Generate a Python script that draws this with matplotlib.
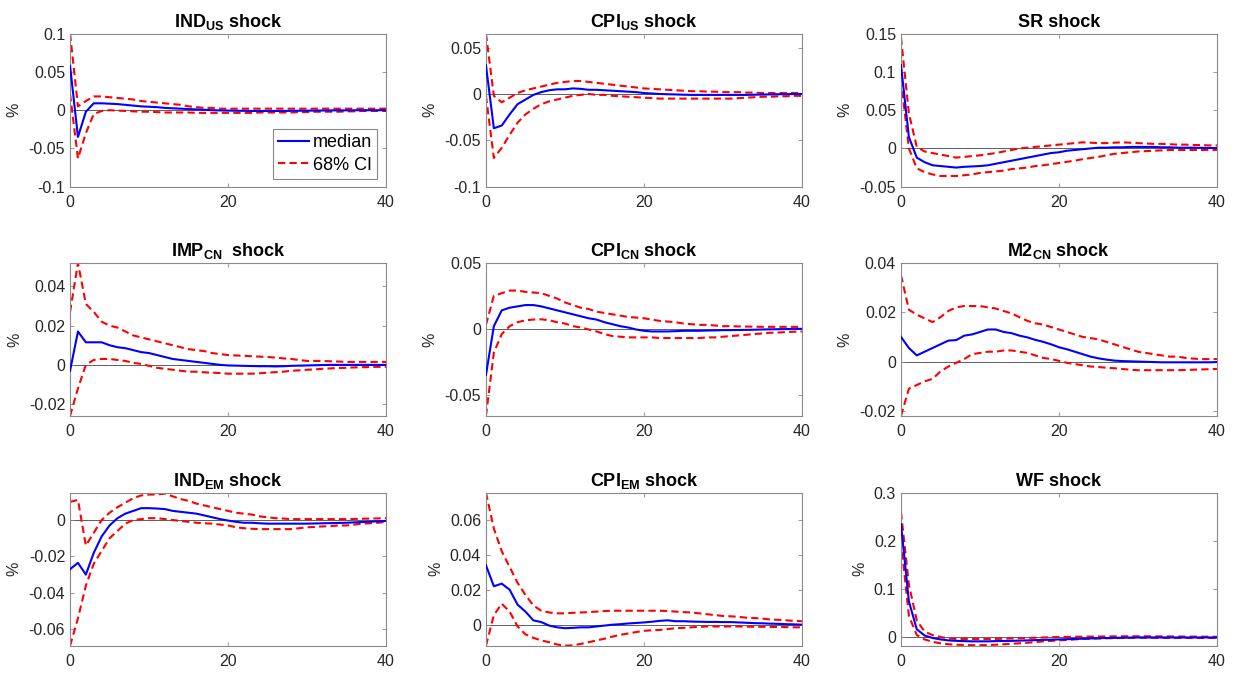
import matplotlib
matplotlib.use("Agg")
import matplotlib.pyplot as plt
import numpy as np

plt.rcParams['font.family'] = ['Liberation Sans', 'DejaVu Sans']
plt.rcParams['mathtext.fontset'] = 'custom'
plt.rcParams['mathtext.rm'] = 'Liberation Sans'
plt.rcParams['mathtext.bf'] = 'Liberation Sans:bold'
plt.rcParams['axes.unicode_minus'] = False

horizons = list(range(41))

titles = [r'IND$_{\mathbf{US}}$ shock', r'CPI$_{\mathbf{US}}$ shock', 'SR shock',
          r'IMP$_{\mathbf{CN}}$  shock', r'CPI$_{\mathbf{CN}}$ shock', r'M2$_{\mathbf{CN}}$ shock',
          r'IND$_{\mathbf{EM}}$ shock', r'CPI$_{\mathbf{EM}}$ shock', 'WF shock']

# ---- IND_US shock
ind_us_med = [0.058, -0.035, -0.002, 0.009, 0.009, 0.0085, 0.008, 0.007, 0.006, 0.005,
              0.0045, 0.004, 0.003, 0.0025, 0.002, 0.0015, 0.001, 0.0005, 0.0, -0.0003,
              -0.0005, -0.0007, -0.0008, -0.001, -0.001, -0.001, -0.001, -0.001, -0.0008, -0.0007,
              -0.0006, -0.0005, -0.0004, -0.0003, -0.0002, -0.0002, -0.0001, 0.0, 0.0, 0.0, 0.0]
ind_us_up = [0.100, 0.005, 0.012, 0.018, 0.018, 0.017, 0.016, 0.015, 0.014, 0.012,
             0.011, 0.010, 0.009, 0.008, 0.007, 0.005, 0.004, 0.003, 0.003, 0.002,
             0.002, 0.002, 0.002, 0.002, 0.002, 0.002, 0.002, 0.002, 0.002, 0.002,
             0.002, 0.002, 0.002, 0.002, 0.002, 0.002, 0.002, 0.002, 0.002, 0.002, 0.002]
ind_us_lo = [0.021, -0.063, -0.030, -0.005, -0.001, 0.000, -0.0005, -0.001, -0.0015, -0.002,
             -0.002, -0.0025, -0.003, -0.003, -0.003, -0.003, -0.0035, -0.0035, -0.0035, -0.0035,
             -0.0035, -0.0035, -0.0035, -0.0035, -0.003, -0.003, -0.003, -0.003, -0.003, -0.0025,
             -0.0025, -0.002, -0.002, -0.002, -0.002, -0.0015, -0.0015, -0.001, -0.001, -0.001, -0.001]

# ---- CPI_US shock
cpi_us_med = [0.031, -0.037, -0.034, -0.022, -0.011, -0.006, -0.001, 0.002, 0.004, 0.005,
              0.005, 0.006, 0.0055, 0.0045, 0.0045, 0.004, 0.0035, 0.003, 0.0025, 0.002,
              0.001, 0.0005, 0.0, -0.0003, -0.0005, -0.0008, -0.001, -0.001, -0.001, -0.001,
              -0.001, -0.001, -0.001, -0.001, -0.0008, -0.0006, -0.0005, -0.0003, -0.0002, -0.0001, 0.0]
cpi_us_up = [0.065, -0.002, -0.009, -0.004, 0.001, 0.004, 0.006, 0.008, 0.010, 0.012,
             0.013, 0.014, 0.014, 0.013, 0.012, 0.011, 0.010, 0.009, 0.008, 0.007,
             0.006, 0.0055, 0.005, 0.0045, 0.004, 0.0035, 0.003, 0.003, 0.0025, 0.0025,
             0.002, 0.002, 0.002, 0.0015, 0.0015, 0.001, 0.001, 0.001, 0.001, 0.001, 0.001]
cpi_us_lo = [-0.002, -0.069, -0.058, -0.044, -0.031, -0.022, -0.016, -0.011, -0.008, -0.006,
             -0.004, -0.002, -0.001, 0.0, -0.001, -0.001, -0.002, -0.0025, -0.003, -0.0035,
             -0.004, -0.0045, -0.005, -0.005, -0.005, -0.005, -0.005, -0.005, -0.005, -0.005,
             -0.005, -0.005, -0.0045, -0.004, -0.0035, -0.003, -0.003, -0.0025, -0.0025, -0.002, -0.002]

# ---- SR shock
sr_med = [0.109, 0.015, -0.012, -0.018, -0.022, -0.023, -0.024, -0.025, -0.024, -0.0235,
          -0.023, -0.022, -0.020, -0.018, -0.016, -0.014, -0.012, -0.010, -0.008, -0.006,
          -0.005, -0.003, -0.002, -0.001, 0.0, 0.001, 0.001, 0.0015, 0.0015, 0.002,
          0.002, 0.002, 0.002, 0.0015, 0.0015, 0.001, 0.001, 0.001, 0.0008, 0.0006, 0.0005]
sr_up = [0.145, 0.046, 0.002, -0.004, -0.006, -0.008, -0.010, -0.012, -0.011, -0.010,
         -0.009, -0.0075, -0.006, -0.004, -0.002, 0.0, 0.001, 0.002, 0.003, 0.004,
         0.005, 0.006, 0.007, 0.008, 0.0075, 0.007, 0.007, 0.0075, 0.008, 0.0075,
         0.007, 0.0065, 0.006, 0.006, 0.0055, 0.005, 0.005, 0.0045, 0.0045, 0.004, 0.004]
sr_lo = [0.09, 0.0, -0.026, -0.031, -0.034, -0.036, -0.036, -0.036, -0.035, -0.034,
         -0.032, -0.031, -0.030, -0.029, -0.027, -0.026, -0.025, -0.023, -0.022, -0.0205,
         -0.019, -0.0175, -0.016, -0.014, -0.0125, -0.011, -0.009, -0.007, -0.006, -0.005,
         -0.004, -0.0035, -0.003, -0.0025, -0.002, -0.002, -0.002, -0.002, -0.002, -0.002, -0.002]

# ---- IMP_CN shock
imp_cn_med = [-0.003, 0.017, 0.0115, 0.0115, 0.0115, 0.010, 0.009, 0.0085, 0.0075, 0.0065,
              0.006, 0.005, 0.004, 0.003, 0.0025, 0.002, 0.0015, 0.001, 0.0005, 0.0,
              -0.0003, -0.0004, -0.0005, -0.0006, -0.0007, -0.0007, -0.0008, -0.0007, -0.0005, -0.0004,
              -0.0003, -0.0002, -0.0001, 0.0, 0.0, 0.0, 0.0, 0.0, 0.0, 0.0, 0.0]
imp_cn_up = [0.027, 0.052, 0.031, 0.027, 0.022, 0.020, 0.019, 0.017, 0.015, 0.014,
             0.013, 0.012, 0.011, 0.010, 0.009, 0.008, 0.0075, 0.007, 0.006, 0.0055,
             0.005, 0.0048, 0.0046, 0.0044, 0.0042, 0.004, 0.0037, 0.0033, 0.003, 0.0025,
             0.002, 0.002, 0.002, 0.0018, 0.0017, 0.0015, 0.0015, 0.0015, 0.0015, 0.0015, 0.0015]
imp_cn_lo = [-0.026, -0.012, 0.0, 0.0025, 0.003, 0.003, 0.0025, 0.002, 0.001, 0.0005,
             -0.0005, -0.0015, -0.002, -0.0025, -0.003, -0.0035, -0.0035, -0.0038, -0.004, -0.0042,
             -0.0045, -0.0045, -0.0045, -0.0045, -0.0043, -0.004, -0.0037, -0.0035, -0.003, -0.0028,
             -0.0025, -0.0023, -0.002, -0.0018, -0.0016, -0.0015, -0.0013, -0.0012, -0.0011, -0.001, -0.001]

# ---- CPI_CN shock
cpi_cn_med = [-0.035, 0.002, 0.014, 0.016, 0.017, 0.018, 0.018, 0.017, 0.0155, 0.014,
              0.0125, 0.011, 0.0095, 0.008, 0.007, 0.005, 0.0035, 0.002, 0.001, -0.0005,
              -0.0015, -0.002, -0.002, -0.002, -0.0018, -0.0015, -0.0015, -0.0015, -0.0013, -0.0012,
              -0.001, -0.001, -0.0009, -0.0008, -0.0007, -0.0005, -0.0004, -0.0003, -0.0002, -0.0001, 0.0]
cpi_cn_up = [0.003, 0.025, 0.027, 0.029, 0.029, 0.028, 0.0275, 0.027, 0.025, 0.023,
             0.020, 0.018, 0.016, 0.015, 0.013, 0.012, 0.011, 0.010, 0.009, 0.0085,
             0.008, 0.007, 0.006, 0.0055, 0.005, 0.004, 0.0035, 0.003, 0.003, 0.0025,
             0.002, 0.002, 0.0018, 0.0017, 0.0016, 0.0015, 0.0015, 0.0015, 0.0015, 0.0015, 0.0015]
cpi_cn_lo = [-0.066, -0.018, -0.004, 0.002, 0.005, 0.0065, 0.007, 0.0072, 0.0065, 0.005,
             0.004, 0.002, 0.001, -0.0005, -0.002, -0.004, -0.0055, -0.006, -0.0065, -0.0065,
             -0.0065, -0.0065, -0.007, -0.007, -0.007, -0.007, -0.007, -0.007, -0.0065, -0.0065,
             -0.006, -0.0055, -0.005, -0.0045, -0.004, -0.0035, -0.003, -0.0028, -0.0025, -0.0022, -0.002]

# ---- M2_CN shock
m2_cn_med = [0.010, 0.0055, 0.0025, 0.004, 0.0055, 0.007, 0.0085, 0.0087, 0.0105, 0.011,
             0.012, 0.013, 0.013, 0.012, 0.0115, 0.0105, 0.0098, 0.0088, 0.008, 0.007,
             0.0058, 0.005, 0.004, 0.003, 0.002, 0.0013, 0.0008, 0.0004, 0.0002, 0.0001,
             0.0, -0.0001, -0.0002, -0.0003, -0.0003, -0.0003, -0.0003, -0.0003, -0.0003, -0.0003, -0.0002]
m2_cn_up = [0.035, 0.021, 0.019, 0.0175, 0.016, 0.018, 0.0205, 0.022, 0.0225, 0.0225,
            0.0225, 0.022, 0.0215, 0.0205, 0.0195, 0.018, 0.0165, 0.0155, 0.015, 0.014,
            0.013, 0.012, 0.011, 0.010, 0.0095, 0.009, 0.008, 0.007, 0.006, 0.005,
            0.004, 0.0035, 0.003, 0.0025, 0.002, 0.002, 0.0015, 0.0012, 0.001, 0.001, 0.001]
m2_cn_lo = [-0.022, -0.011, -0.0095, -0.008, -0.007, -0.004, -0.002, -0.0005, 0.001, 0.003,
            0.0035, 0.004, 0.004, 0.0045, 0.0045, 0.004, 0.0035, 0.0025, 0.0015, 0.001,
            0.0003, -0.0005, -0.001, -0.0015, -0.002, -0.0022, -0.0025, -0.0027, -0.003, -0.0033,
            -0.0035, -0.0035, -0.0035, -0.0035, -0.0035, -0.0035, -0.0034, -0.0033, -0.0032, -0.0031, -0.003]

# ---- IND_EM shock
ind_em_med = [-0.027, -0.0235, -0.030, -0.018, -0.009, -0.003, 0.001, 0.0035, 0.005, 0.0065,
              0.0065, 0.0063, 0.006, 0.005, 0.0045, 0.004, 0.0035, 0.0025, 0.0015, 0.0005,
              -0.0003, -0.001, -0.0015, -0.0015, -0.0018, -0.002, -0.002, -0.002, -0.002, -0.002,
              -0.002, -0.0019, -0.0018, -0.0017, -0.0016, -0.0015, -0.0013, -0.0011, -0.0009, -0.0007, -0.0005]
ind_em_up = [0.010, 0.011, -0.014, -0.007, 0.0, 0.004, 0.007, 0.0095, 0.012, 0.0135,
             0.014, 0.014, 0.0145, 0.013, 0.0115, 0.0105, 0.009, 0.008, 0.007, 0.006,
             0.005, 0.004, 0.0035, 0.003, 0.002, 0.0015, 0.001, 0.0008, 0.0005, 0.0005,
             0.0005, 0.0005, 0.0005, 0.0005, 0.0005, 0.0005, 0.0006, 0.0007, 0.0008, 0.0009, 0.001]
ind_em_lo = [-0.069, -0.054, -0.036, -0.024, -0.017, -0.010, -0.006, -0.002, 0.0, 0.0005,
             0.001, 0.001, 0.0005, 0.0, -0.0005, -0.001, -0.0015, -0.0018, -0.002, -0.0025,
             -0.003, -0.004, -0.0045, -0.0048, -0.005, -0.005, -0.005, -0.005, -0.005, -0.0045,
             -0.004, -0.0038, -0.0035, -0.0033, -0.003, -0.003, -0.0025, -0.002, -0.0018, -0.0015, -0.001]

# ---- CPI_EM shock
cpi_em_med = [0.034, 0.022, 0.0235, 0.020, 0.0115, 0.0075, 0.0025, 0.0015, -0.0005, -0.0015,
              -0.002, -0.0018, -0.0015, -0.0015, -0.001, -0.0005, 0.0, 0.0003, 0.0007, 0.001,
              0.0013, 0.0017, 0.0022, 0.0025, 0.002, 0.002, 0.0018, 0.0017, 0.0016, 0.0016,
              0.0015, 0.0015, 0.0013, 0.0011, 0.0009, 0.0008, 0.0006, 0.0005, 0.0003, 0.0002, 0.0]
cpi_em_up = [0.0755, 0.055, 0.042, 0.033, 0.024, 0.017, 0.011, 0.008, 0.007, 0.0065,
             0.0065, 0.0068, 0.007, 0.0072, 0.0075, 0.0078, 0.008, 0.008, 0.008, 0.008,
             0.008, 0.008, 0.008, 0.0078, 0.0075, 0.0072, 0.007, 0.0065, 0.006, 0.0055,
             0.005, 0.0048, 0.0045, 0.004, 0.0038, 0.0035, 0.003, 0.0028, 0.0025, 0.0022, 0.002]
cpi_em_lo = [-0.012, 0.0055, 0.012, 0.0075, -0.001, -0.0055, -0.0075, -0.009, -0.010, -0.0113,
             -0.012, -0.0118, -0.011, -0.010, -0.009, -0.008, -0.0068, -0.0058, -0.005, -0.0042,
             -0.0035, -0.0032, -0.003, -0.0025, -0.002, -0.0018, -0.0015, -0.0012, -0.001, -0.001,
             -0.001, -0.001, -0.001, -0.0011, -0.0012, -0.0012, -0.0013, -0.0013, -0.0014, -0.0015, -0.0015]

# ---- WF shock
wf_med = [0.235, 0.075, 0.017, 0.004, -0.001, -0.004, -0.006, -0.007, -0.0075, -0.008,
          -0.008, -0.008, -0.0075, -0.0072, -0.007, -0.0065, -0.006, -0.0055, -0.005, -0.0045,
          -0.004, -0.0035, -0.003, -0.0025, -0.002, -0.0015, -0.001, -0.0008, -0.0005, -0.0003,
          0.0, 0.0, 0.0, 0.0, 0.0, 0.0, 0.0, 0.0, 0.0, 0.0, 0.0]
wf_up = [0.26, 0.11, 0.035, 0.012, 0.005, 0.001, -0.002, -0.003, -0.003, -0.003,
         -0.003, -0.003, -0.003, -0.0025, -0.002, -0.0015, -0.001, -0.0005, 0.0, 0.0005,
         0.001, 0.0012, 0.0015, 0.0017, 0.0018, 0.002, 0.0022, 0.0023, 0.0025, 0.0025,
         0.0025, 0.0025, 0.0024, 0.0023, 0.0022, 0.002, 0.0019, 0.0018, 0.0017, 0.0016, 0.0015]
wf_lo = [0.20, 0.045, 0.005, -0.004, -0.009, -0.012, -0.014, -0.015, -0.0155, -0.016,
         -0.016, -0.0155, -0.015, -0.014, -0.013, -0.012, -0.011, -0.0095, -0.008, -0.007,
         -0.006, -0.005, -0.004, -0.003, -0.0025, -0.002, -0.0017, -0.0014, -0.001, -0.0008,
         -0.0005, -0.0006, -0.0007, -0.0008, -0.0009, -0.001, -0.001, -0.001, -0.001, -0.001, -0.001]

medians = [ind_us_med, cpi_us_med, sr_med, imp_cn_med, cpi_cn_med, m2_cn_med,
           ind_em_med, cpi_em_med, wf_med]
uppers = [ind_us_up, cpi_us_up, sr_up, imp_cn_up, cpi_cn_up, m2_cn_up,
          ind_em_up, cpi_em_up, wf_up]
lowers = [ind_us_lo, cpi_us_lo, sr_lo, imp_cn_lo, cpi_cn_lo, m2_cn_lo,
          ind_em_lo, cpi_em_lo, wf_lo]

yticks = [[-0.1, -0.05, 0, 0.05, 0.1], [-0.1, -0.05, 0, 0.05], [-0.05, 0, 0.05, 0.1, 0.15],
          [-0.02, 0, 0.02, 0.04], [-0.05, 0, 0.05], [-0.02, 0, 0.02, 0.04],
          [-0.06, -0.04, -0.02, 0], [0, 0.02, 0.04, 0.06], [0, 0.1, 0.2, 0.3]]
ylims = [(-0.1, 0.1), (-0.1, 0.065), (-0.05, 0.15),
         (-0.026, 0.052), (-0.066, 0.05), (-0.022, 0.04),
         (-0.069, 0.015), (-0.012, 0.0755), (-0.017, 0.3)]
xticks = [0, 20, 40]

fig = plt.figure(figsize=(12.4, 6.74), dpi=100)
lefts = [0.0565, 0.3919, 0.7266]
bottoms = [0.723, 0.383, 0.042]
w, h = 0.2548, 0.227

spine_col = '#8a8a8a'
text_col = '#262626'

for i in range(9):
    r, c = divmod(i, 3)
    ax = fig.add_axes([lefts[c], bottoms[r], w, h])
    ax.axhline(0, color='#444444', lw=0.6, zorder=1)
    ln_med, = ax.plot(horizons, medians[i], color='#0000ff', lw=1.5, zorder=3, label='median')
    ln_up, = ax.plot(horizons, uppers[i], color='#ff0000', lw=1.5, dashes=(3.5, 2), zorder=2, label='68% CI')
    ax.plot(horizons, lowers[i], color='#ff0000', lw=1.5, dashes=(3.5, 2), zorder=2)
    ax.set_xlim(0, 40)
    ax.set_ylim(*ylims[i])
    ax.set_xticks(xticks)
    ax.set_yticks(yticks[i])
    ax.set_yticklabels(['%g' % v for v in yticks[i]])
    ax.tick_params(direction='in', length=3, width=0.6, color=spine_col,
                   labelsize=11.5, labelcolor=text_col, top=True, right=True)
    ax.tick_params(axis='x', pad=6)
    ax.tick_params(axis='y', pad=3.5)
    for s in ax.spines.values():
        s.set_color(spine_col)
        s.set_linewidth(0.8)
    ax.set_title(titles[i], fontsize=13, fontweight='bold', pad=5, color='black')
    ax.set_ylabel('%', fontsize=11.5, color=text_col, labelpad=5)
    if i == 0:
        leg = ax.legend(handles=[ln_med, ln_up], loc='lower right',
                        bbox_to_anchor=(0.9725, 0.05), borderaxespad=0,
                        fontsize=13, handlelength=1.7, handletextpad=0.2,
                        borderpad=0.3, labelspacing=0.3, fancybox=False,
                        framealpha=1, edgecolor='#8a8a8a')
        leg.get_frame().set_linewidth(0.8)

fig.savefig('out.png', dpi=100)
